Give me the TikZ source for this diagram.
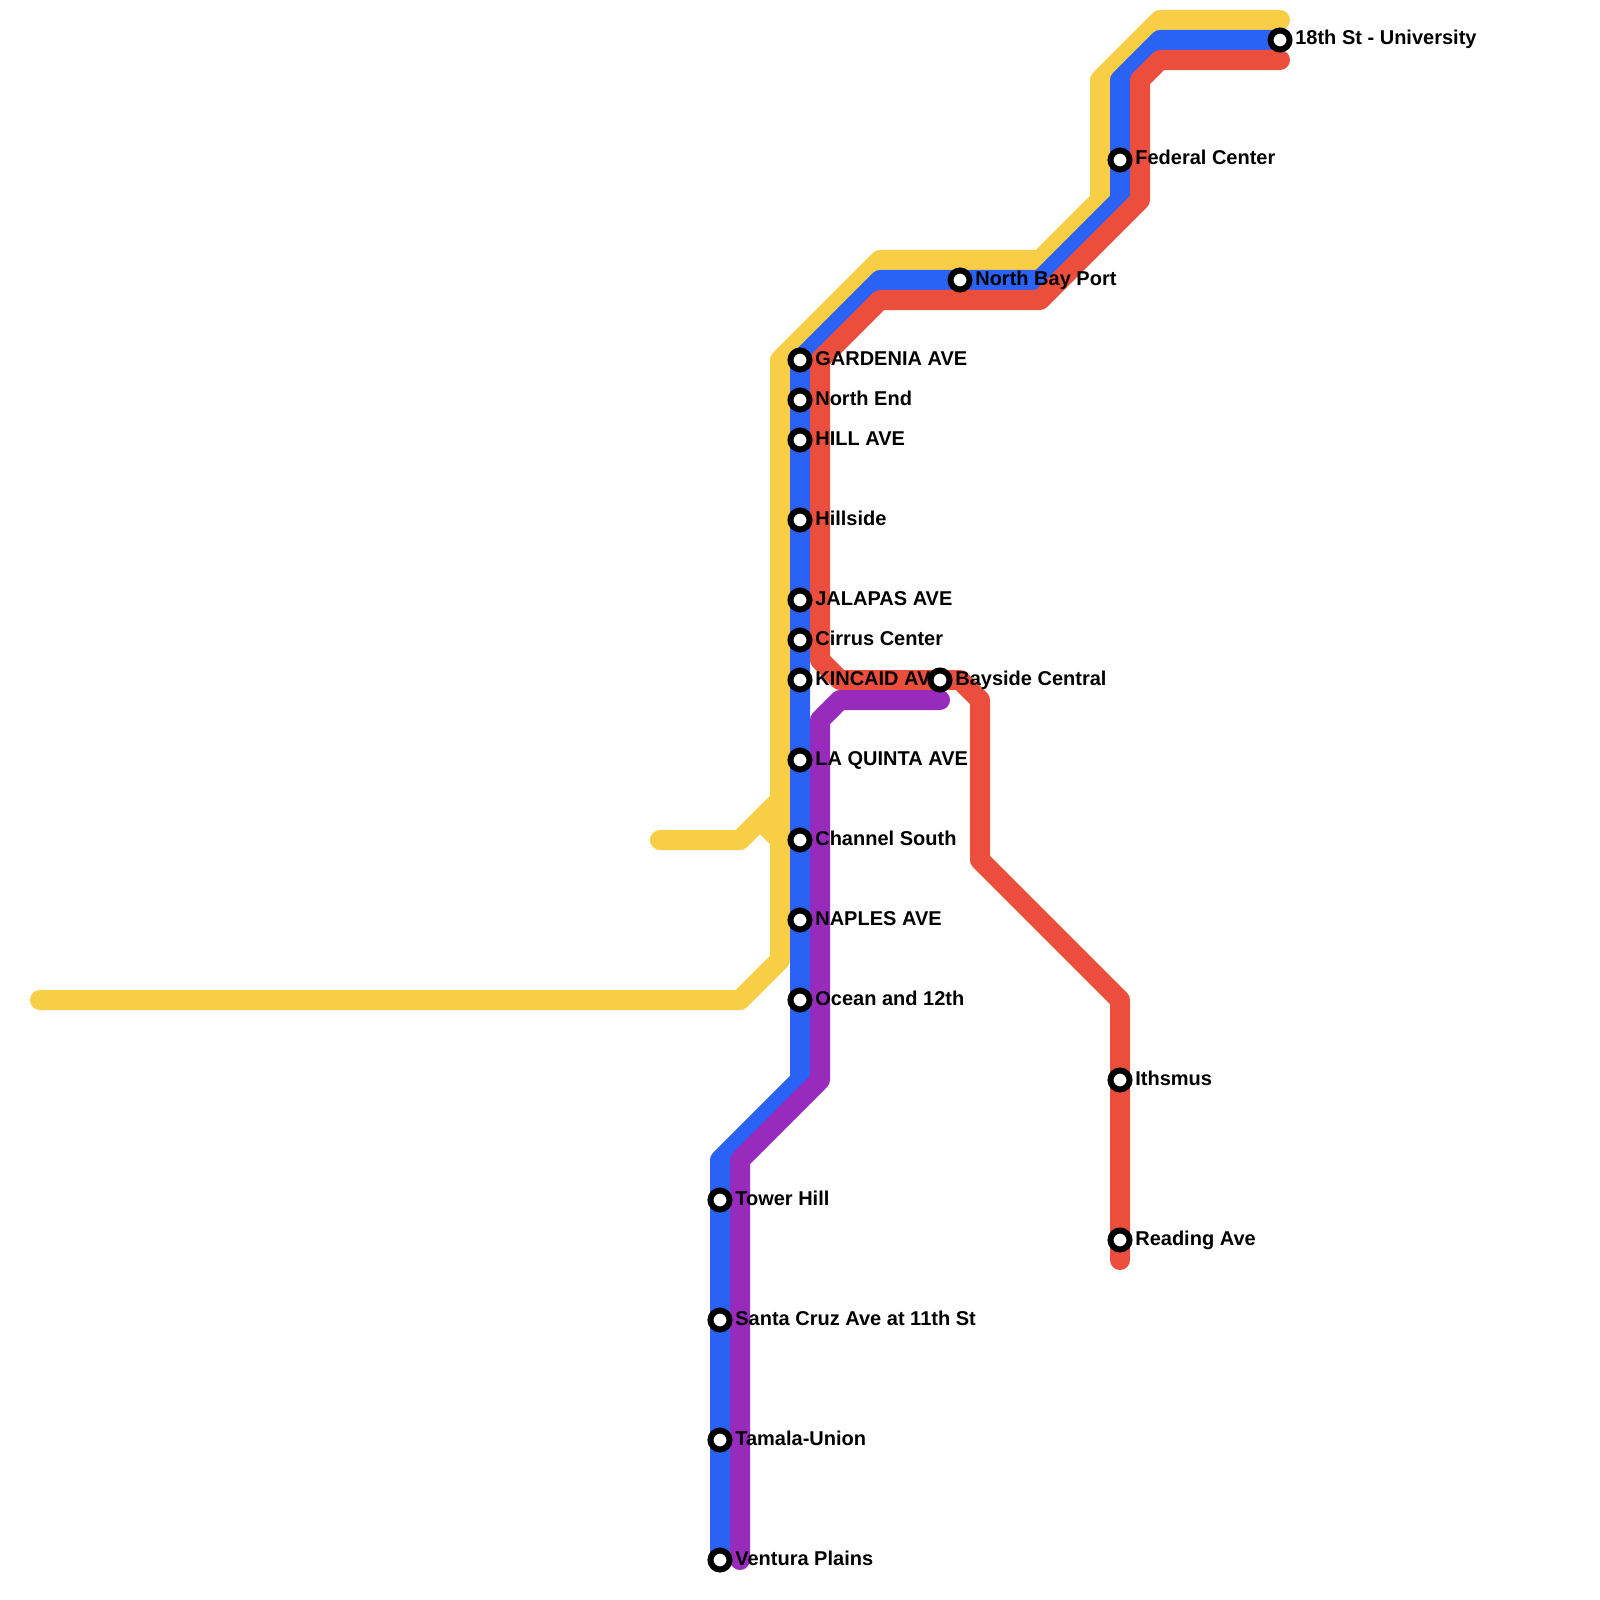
\documentclass[tikz,border=0pt]{standalone}
\usepackage{fontspec}
\setmainfont{Liberation Sans}
\usetikzlibrary{backgrounds}
\definecolor{LineYellow}{HTML}{F8CE46}
\definecolor{LineBlue}{HTML}{2A62F6}
\definecolor{LineRed}{HTML}{EC4E3D}
\definecolor{LinePurple}{HTML}{982ABC}
\tikzset{
  metroline/.style={line width=0.2cm,line cap=round,line join=round},
  stopring/.style={circle,draw=black,fill=white,line width=0.06cm,minimum size=0.19cm,inner sep=0pt},
  stoplabel/.style={anchor=base west,inner sep=0pt,text=black,font=\fontsize{5.69}{6.5}\selectfont\bfseries},
}
\newcommand{\metrostop}[4]{%
  \node[stopring] (#1) at (#2,#3) {};
  \node[stoplabel] (#1text) at (#2+14.6,#3+5) {#4};
}

\begin{document}
\begin{tikzpicture}[x=0.01cm,y=-0.01cm]
      \useasboundingbox (0,0) rectangle (1600,1600);

      \metrostop{gardenia}{800}{360}{GARDENIA AVE}
      \metrostop{northend}{800}{400}{North End}
      \metrostop{hill}{800}{440}{HILL AVE}
      \metrostop{hillside}{800}{520}{Hillside}
      \metrostop{jalapas}{800}{600}{JALAPAS AVE}
      \metrostop{cirrus}{800}{640}{Cirrus Center}
      \metrostop{kincaid}{800}{680}{KINCAID AVE}
      \metrostop{laquinta}{800}{760}{LA QUINTA AVE}
      \metrostop{channel}{800}{840}{Channel South}
      \metrostop{naples}{800}{920}{NAPLES AVE}
      \metrostop{ocean}{800}{1000}{Ocean and 12th}
      \metrostop{tower}{720}{1200}{Tower Hill}
      \metrostop{santacruz}{720}{1320}{Santa Cruz Ave at 11th St}
      \metrostop{tamala}{720}{1440}{Tamala-Union}
      \metrostop{ventura}{720}{1560}{Ventura Plains}
      \metrostop{bayside}{940}{680}{Bayside Central}
      \metrostop{northbay}{960}{280}{North Bay Port}
      \metrostop{federal}{1120}{160}{Federal Center}
      \metrostop{university}{1280}{40}{18th St - University}
      \metrostop{ithsmus}{1120}{1080}{Ithsmus}
      \metrostop{reading}{1120}{1240}{Reading Ave}

      \coordinate (yellowtop) at (1280,20);
      \coordinate (yellowbranch) at (660,840);
      \coordinate (yellowwest) at (40,1000);
      \coordinate (redtop) at (1280,60);
      \coordinate (redbottom) at (1120,1260);
      \coordinate (purpletop) at (940,700);
      \coordinate (purplebottom) at (740,1560);

      \begin{scope}[on background layer]
        \draw[metroline,LineYellow] (yellowtop) -- (1160,20) -- (1100,80) -- (1100,200) -- (1040,260)
          -- (880,260) -- (780,360) -- (780,960) -- (740,1000) -- (yellowwest);
        \draw[metroline,LineYellow] (yellowbranch) -- (740,840) -- (780,800) -- (780,840) -- (760,820);
        \draw[metroline,LineBlue] (university.center) -- (1160,40) -- (1120,80) -- (federal.center) -- (1120,200)
          -- (1040,280) -- (northbay.center) -- (880,280) -- (gardenia.center) -- (ocean.center)
          -- (800,1080) -- (720,1160) -- (ventura.center);
        \draw[metroline,LineRed] (redtop) -- (1160,60) -- (1140,80) -- (1140,200) -- (1040,300)
          -- (880,300) -- (820,360) -- (820,660) -- (840,680) -- (960,680) -- (980,700)
          -- (980,860) -- (1120,1000) -- (redbottom);
        \draw[metroline,LinePurple] (purpletop) -- (840,700) -- (820,720) -- (820,1080) -- (740,1160) -- (purplebottom);
      \end{scope}
    \end{tikzpicture}
\end{document}
